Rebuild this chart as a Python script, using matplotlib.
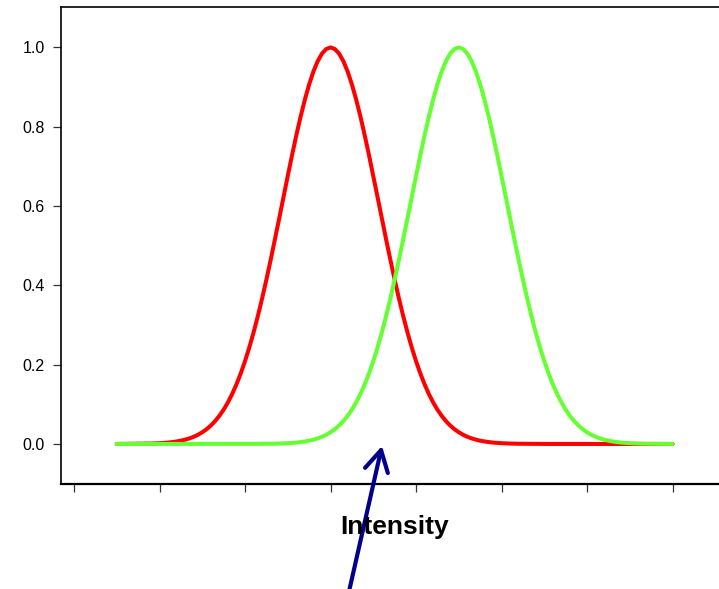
import numpy as np
import matplotlib
matplotlib.use("Agg")
from matplotlib import pyplot as plt

plt.rcParams['font.family'] = ['Liberation Sans', 'DejaVu Sans']

# sample positions along the intensity axis (tick units 0..7, step 0.05)
intensity = np.linspace(0.5, 7.0, 131)

# red curve (peak at 3.0)
red_curve = ([0.0, 0.0001, 0.0001, 0.0002, 0.0003, 0.0004, 0.0005, 0.0007, 0.0010, 0.0014,
              0.0019, 0.0026, 0.0035, 0.0047, 0.0063, 0.0083, 0.0108, 0.0141, 0.0181, 0.0232,
              0.0295, 0.0371, 0.0464, 0.0576, 0.0709, 0.0865, 0.1048, 0.1260, 0.1503, 0.1779,
              0.2089, 0.2433, 0.2812, 0.3225, 0.3670, 0.4144, 0.4642, 0.5160, 0.5690, 0.6227,
              0.6760, 0.7282, 0.7783, 0.8254, 0.8685, 0.9067, 0.9393, 0.9654, 0.9845, 0.9961,
              1.0,
              0.9961, 0.9845, 0.9654, 0.9393, 0.9067, 0.8685, 0.8254, 0.7783, 0.7282, 0.6760,
              0.6227, 0.5690, 0.5160, 0.4642, 0.4144, 0.3670, 0.3225, 0.2812, 0.2433, 0.2089,
              0.1779, 0.1503, 0.1260, 0.1048, 0.0865, 0.0709, 0.0576, 0.0464, 0.0371, 0.0295,
              0.0232, 0.0181, 0.0141, 0.0108, 0.0083, 0.0063, 0.0047, 0.0035, 0.0026, 0.0019,
              0.0014, 0.0010, 0.0007, 0.0005, 0.0004, 0.0003, 0.0002, 0.0001, 0.0001, 0.0]
             + [0.0] * 30)

# green curve (peak at 4.5)
green_curve = ([0.0] * 30
               + [0.0, 0.0001, 0.0001, 0.0002, 0.0003, 0.0004, 0.0005, 0.0007, 0.0010, 0.0014,
                  0.0019, 0.0026, 0.0035, 0.0047, 0.0063, 0.0083, 0.0108, 0.0141, 0.0181, 0.0232,
                  0.0295, 0.0371, 0.0464, 0.0576, 0.0709, 0.0865, 0.1048, 0.1260, 0.1503, 0.1779,
                  0.2089, 0.2433, 0.2812, 0.3225, 0.3670, 0.4144, 0.4642, 0.5160, 0.5690, 0.6227,
                  0.6760, 0.7282, 0.7783, 0.8254, 0.8685, 0.9067, 0.9393, 0.9654, 0.9845, 0.9961,
                  1.0,
                  0.9961, 0.9845, 0.9654, 0.9393, 0.9067, 0.8685, 0.8254, 0.7783, 0.7282, 0.6760,
                  0.6227, 0.5690, 0.5160, 0.4642, 0.4144, 0.3670, 0.3225, 0.2812, 0.2433, 0.2089,
                  0.1779, 0.1503, 0.1260, 0.1048, 0.0865, 0.0709, 0.0576, 0.0464, 0.0371, 0.0295,
                  0.0232, 0.0181, 0.0141, 0.0108, 0.0083, 0.0063, 0.0047, 0.0035, 0.0026, 0.0019,
                  0.0014, 0.0010, 0.0007, 0.0005, 0.0004, 0.0003, 0.0002, 0.0001, 0.0001, 0.0])

x_ticks = [0, 1, 2, 3, 4, 5, 6, 7]
y_ticks = [0.0, 0.2, 0.4, 0.6, 0.8, 1.0]
y_labels = ["0.0", "0.2", "0.4", "0.6", "0.8", "1.0"]

fig = plt.figure(figsize=(7.19, 5.89), dpi=100)
ax = fig.add_axes([61 / 719, 1 - 484 / 589, 668 / 719, 477 / 589])

ax.plot(intensity, red_curve, color="#ff0000", lw=2.9,
        solid_capstyle="round", solid_joinstyle="round")
ax.plot(intensity, green_curve, color="#66ff33", lw=2.9,
        solid_capstyle="round", solid_joinstyle="round")

ax.set_xlim(-0.152, 7.66)
ax.set_ylim(-0.101, 1.102)

ax.set_xticks(x_ticks)
ax.set_xticklabels([])
ax.set_yticks(y_ticks)
ax.set_yticklabels(y_labels, fontsize=11.5)
ax.tick_params(axis="both", direction="out", length=5.8, width=0.9, color="#333333", pad=6)

ax.spines["right"].set_visible(False)
ax.spines["left"].set_linewidth(1.2)
ax.spines["top"].set_linewidth(1.2)
ax.spines["bottom"].set_linewidth(1.6)

fig.text(395 / 719, 1 - 534 / 589, "Intensity", ha="center", va="baseline",
         fontsize=19, fontweight="bold")

# arrow pointing up at the crossing region
ax.annotate("", xy=(3.602, -0.005), xytext=(3.193, -0.394),
            annotation_clip=False,
            arrowprops=dict(arrowstyle="->,head_length=0.75,head_width=0.42",
                            mutation_scale=20, color="#00008b", lw=3.0,
                            shrinkA=0, shrinkB=0, clip_on=False))

fig.savefig("out.png", dpi=100)
